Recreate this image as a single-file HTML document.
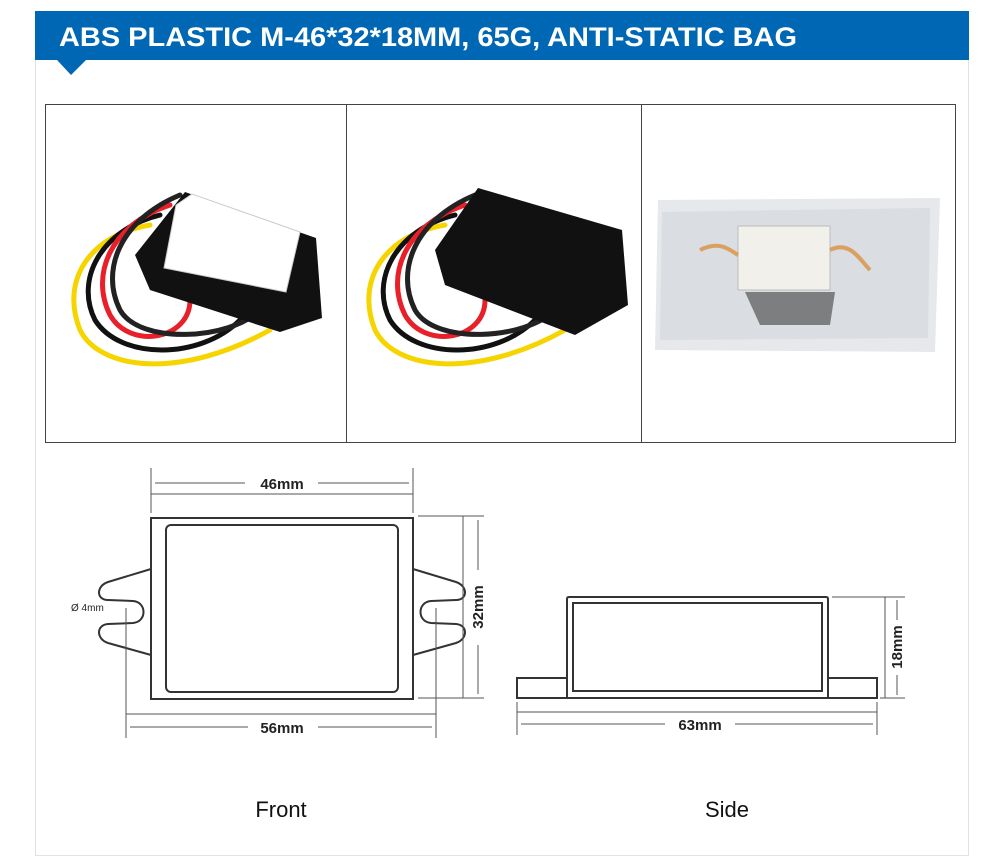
<!DOCTYPE html>
<html><head><meta charset="utf-8"><style>
body{margin:0;background:#fff;width:1000px;height:863px;overflow:hidden;font-family:"Liberation Sans",Arial,sans-serif}
</style></head><body>
<svg width="1000" height="863" viewBox="0 0 1000 863" xmlns="http://www.w3.org/2000/svg">
<rect x="0" y="0" width="1000" height="863" fill="#fff"/>
<line x1="35.5" y1="60" x2="35.5" y2="856" stroke="#e2e2e2"/>
<line x1="968.5" y1="60" x2="968.5" y2="856" stroke="#e2e2e2"/>
<line x1="35" y1="855.5" x2="969" y2="855.5" stroke="#e2e2e2"/>
<rect x="35" y="11" width="934" height="49" fill="#0067b5"/>
<polygon points="57,60 86,60 71,75" fill="#0067b5"/>
<text x="59" y="46" font-size="27" font-weight="bold" fill="#fff" font-family="Liberation Sans, sans-serif" textLength="738" lengthAdjust="spacingAndGlyphs">ABS PLASTIC M-46*32*18MM, 65G, ANTI-STATIC BAG</text>

<rect x="45.5" y="104.5" width="910" height="338" fill="none" stroke="#444"/>
<line x1="346.5" y1="104" x2="346.5" y2="443" stroke="#444"/>
<line x1="641.5" y1="104" x2="641.5" y2="443" stroke="#444"/>

<!-- photo 1 -->
<g fill="none" stroke-linecap="round">
<path d="M150,225 C90,235 60,280 80,330 C100,370 180,380 270,330" stroke="#f5d400" stroke-width="5"/>
<path d="M160,215 C100,230 75,280 95,320 C120,360 200,360 240,320" stroke="#111" stroke-width="5"/>
<path d="M170,205 C110,225 90,275 110,315 C130,350 190,340 190,300" stroke="#e8202a" stroke-width="5"/>
<path d="M180,195 C120,220 100,270 120,310 C140,345 230,340 260,310" stroke="#222" stroke-width="5"/>
</g>
<polygon points="135,255 185,192 316,238 322,318 280,332 150,290" fill="#111"/>
<polygon points="176,205 192,194 300,232 286,292 164,268" fill="#fff" stroke="#ccc"/>
<!-- photo 2 -->
<g fill="none" stroke-linecap="round">
<path d="M445,225 C385,235 355,280 375,330 C395,370 475,380 565,330" stroke="#f5d400" stroke-width="5"/>
<path d="M455,215 C395,230 370,280 390,320 C415,360 495,360 535,320" stroke="#111" stroke-width="5"/>
<path d="M465,205 C405,225 385,275 405,315 C425,350 485,340 485,300" stroke="#e8202a" stroke-width="5"/>
<path d="M475,195 C415,220 395,270 415,310 C435,345 525,340 555,310" stroke="#222" stroke-width="5"/>
</g>
<polygon points="435,250 478,188 622,230 628,305 575,335 445,285" fill="#111"/>
<!-- photo 3 bag -->
<path d="M658,200 L940,198 L935,352 L655,350 Z" fill="#e6e8eb"/>
<path d="M662,212 L930,208 L928,338 L660,340 Z" fill="#d2d5da" opacity=".6"/>
<rect x="738" y="226" width="92" height="64" fill="#f2f0ea" stroke="#bbb"/>
<path d="M745,292 L835,292 L830,325 L760,325 Z" fill="#555" opacity=".7"/>
<path d="M700,250 C720,240 730,250 738,255 M830,250 C850,240 860,260 870,270" stroke="#d9a060" stroke-width="4" fill="none"/>

<!-- front drawing -->
<g fill="none" stroke="#333" stroke-width="2">
<rect x="151" y="518" width="262" height="181"/>
<rect x="166" y="525" width="232" height="167" rx="5"/>
<path d="M151,569 L108,582 C96,586 96,600 108,600 L133,601 C147,602 147,622 133,623 L108,624 C96,625 96,639 108,643 L151,655"/>
<path d="M413,569 L456,582 C468,586 468,600 456,600 L431,601 C417,602 417,622 431,623 L456,624 C468,625 468,639 456,643 L413,655"/>
</g>
<g stroke="#555" stroke-width="1" fill="none">
<line x1="151" y1="468" x2="151" y2="513"/><line x1="413" y1="468" x2="413" y2="513"/>
<line x1="151" y1="494" x2="413" y2="494"/>
<line x1="155" y1="483" x2="245" y2="483"/><line x1="318" y1="483" x2="409" y2="483"/>
<line x1="418" y1="516" x2="484" y2="516"/><line x1="418" y1="698" x2="484" y2="698"/>
<line x1="463" y1="516" x2="463" y2="698"/>
<line x1="478" y1="520" x2="478" y2="570"/><line x1="478" y1="645" x2="478" y2="694"/>
<line x1="126" y1="608" x2="126" y2="738"/><line x1="436" y1="608" x2="436" y2="738"/>
<line x1="126" y1="714" x2="436" y2="714"/>
<line x1="130" y1="727" x2="248" y2="727"/><line x1="318" y1="727" x2="432" y2="727"/>
</g>
<text x="282" y="489" font-size="15" font-weight="bold" fill="#222" text-anchor="middle">46mm</text>
<text x="282" y="733" font-size="15" font-weight="bold" fill="#222" text-anchor="middle">56mm</text>
<text x="483" y="607" font-size="15" font-weight="bold" fill="#222" text-anchor="middle" transform="rotate(-90 483 607)">32mm</text>
<text x="71" y="611" font-size="10" fill="#222">Ø 4mm</text>

<!-- side drawing -->
<g fill="none" stroke="#333" stroke-width="2">
<path d="M567,698 L567,599 Q567,597 569,597 L826,597 Q828,597 828,599 L828,698"/>
<rect x="573" y="603" width="249" height="88"/>
<rect x="517" y="678" width="50" height="20"/>
<rect x="828" y="678" width="49" height="20"/>
<line x1="517" y1="698" x2="877" y2="698"/>
</g>
<g stroke="#555" stroke-width="1" fill="none">
<line x1="832" y1="597" x2="905" y2="597"/><line x1="880" y1="698" x2="905" y2="698"/>
<line x1="885" y1="597" x2="885" y2="698"/>
<line x1="897" y1="600" x2="897" y2="620"/><line x1="897" y1="675" x2="897" y2="695"/>
<line x1="517" y1="702" x2="517" y2="735"/><line x1="877" y1="702" x2="877" y2="735"/>
<line x1="517" y1="712" x2="877" y2="712"/>
<line x1="521" y1="724" x2="665" y2="724"/><line x1="735" y1="724" x2="873" y2="724"/>
</g>
<text x="700" y="730" font-size="15" font-weight="bold" fill="#222" text-anchor="middle">63mm</text>
<text x="902" y="647" font-size="15" font-weight="bold" fill="#222" text-anchor="middle" transform="rotate(-90 902 647)">18mm</text>

<text x="281" y="817" font-size="22" fill="#111" text-anchor="middle">Front</text>
<text x="727" y="817" font-size="22" fill="#111" text-anchor="middle">Side</text>
</svg>
</body></html>
